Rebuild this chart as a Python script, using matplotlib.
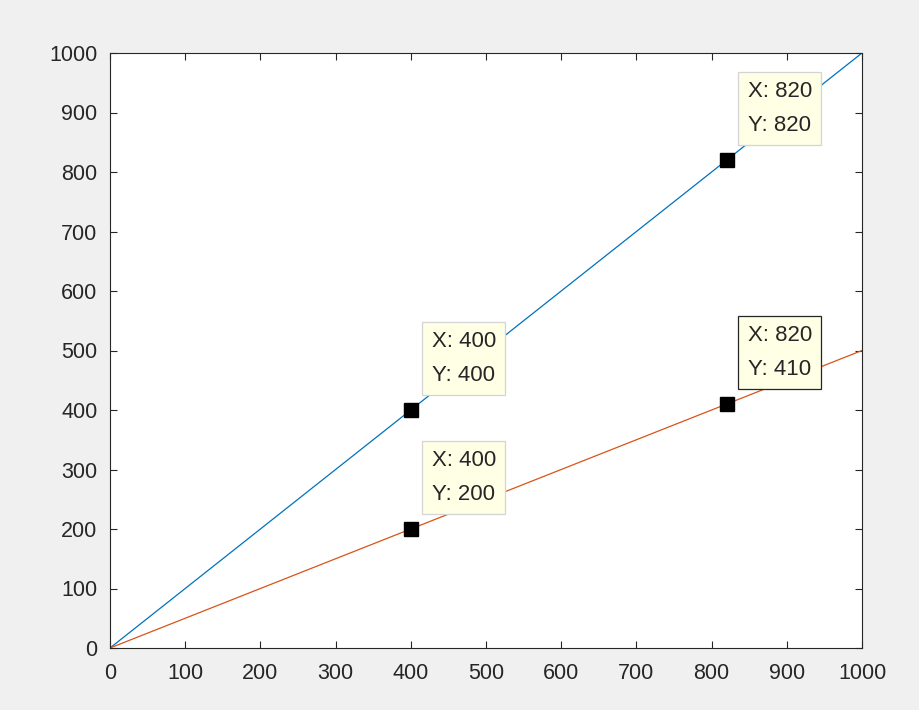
import matplotlib
matplotlib.use("Agg")
import matplotlib.pyplot as plt

plt.rcParams['font.family'] = ['Liberation Sans', 'DejaVu Sans']

x_line = [0, 1000]
y_blue = [0, 1000]
y_orange = [0, 500]

tips_x = [400, 820, 400, 820]
tips_y = [400, 820, 200, 410]
tip_selected = [False, False, False, True]

xticks = list(range(0, 1001, 100))
yticks = list(range(0, 1001, 100))

fig = plt.figure(figsize=(9.19, 7.10), dpi=100, facecolor='#f0f0f0')
ax = fig.add_axes([110/919, 62/710, 752/919, 595/710])
ax.set_facecolor('white')

ax.plot(x_line, y_blue, color='#0072BD', lw=0.9, zorder=2)
ax.plot(x_line, y_orange, color='#D95319', lw=0.9, zorder=2)

ax.set_xlim(0, 1000)
ax.set_ylim(0, 1000)
ax.set_xticks(xticks)
ax.set_yticks(yticks)
ax.tick_params(direction='in', length=5, width=0.8, top=True, right=True,
               labelsize=15.5, colors='#262626')
ax.tick_params(axis='x', pad=11)
ax.tick_params(axis='y', pad=9)
for s in ax.spines.values():
    s.set_color('#262626')
    s.set_linewidth(0.8)

for tx, ty, sel in zip(tips_x, tips_y, tip_selected):
    ax.plot([tx], [ty], marker='s', color='black', markersize=10, ls='none', zorder=4)
    ax.annotate(f"X: {tx}\nY: {ty}", xy=(tx, ty), xytext=(21, 24),
                textcoords='offset pixels', ha='left', va='bottom',
                fontsize=16, color='#262626', linespacing=1.8, zorder=5,
                bbox=dict(boxstyle='square,pad=0.42', fc='#ffffe6',
                          ec='#262626' if sel else '#d4d4d4', lw=0.9))

fig.savefig('out.png', dpi=100, facecolor=fig.get_facecolor())
